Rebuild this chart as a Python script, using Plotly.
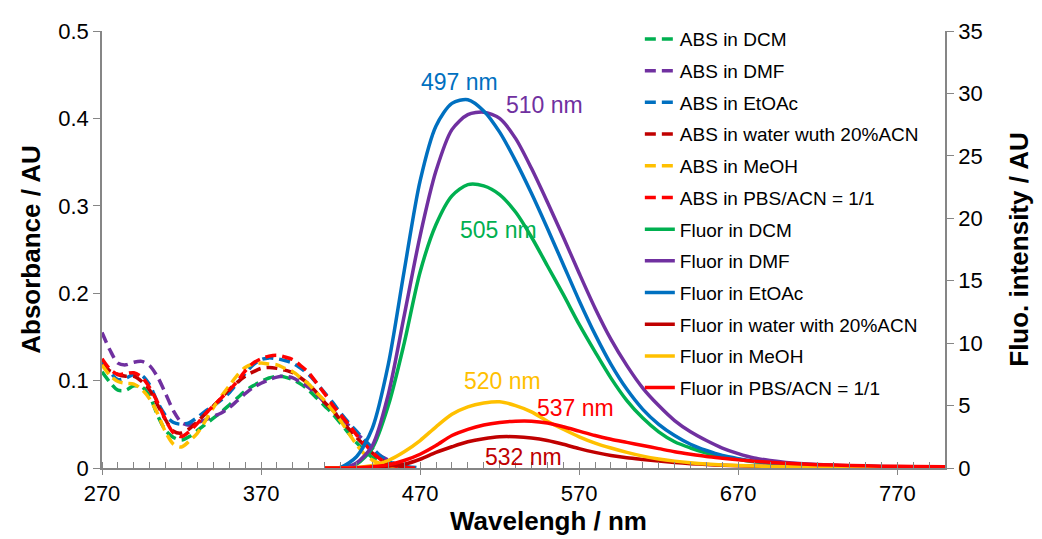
import plotly.graph_objects as go

# ---------------- data ----------------
abs_wl = [270, 275, 280, 285, 290, 295, 300, 305, 310, 315, 320, 325, 330, 335, 340,
          345, 350, 355, 360, 365, 370, 375, 380, 385, 390, 395, 400, 405, 410, 415,
          420, 425, 430, 435, 440, 445, 450, 455, 460, 465, 470]

abs_dcm = [0.110, 0.098, 0.089, 0.089, 0.094, 0.093, 0.082, 0.060, 0.043, 0.035, 0.032,
           0.036, 0.043, 0.050, 0.057, 0.064, 0.072, 0.080, 0.088, 0.094, 0.099, 0.103,
           0.105, 0.104, 0.101, 0.096, 0.089, 0.080, 0.071, 0.062, 0.051, 0.040, 0.029,
           0.020, 0.012, 0.007, 0.003, 0.001, 0.0, None, None]
abs_dmf = [0.155, 0.135, 0.120, 0.118, 0.121, 0.122, 0.117, 0.104, 0.085, 0.065, 0.052,
           0.049, 0.052, 0.055, 0.059, 0.063, 0.069, 0.077, 0.085, 0.092, 0.097, 0.101,
           0.104, 0.105, 0.103, 0.098, 0.092, 0.084, 0.075, 0.066, 0.057, 0.049, 0.040,
           0.031, 0.022, 0.014, 0.009, 0.004, 0.001, 0.0, None]
abs_etoac = [0.122, 0.110, 0.101, 0.103, 0.107, 0.106, 0.095, 0.075, 0.060, 0.052, 0.050,
             0.052, 0.058, 0.065, 0.071, 0.078, 0.086, 0.097, 0.108, 0.118, 0.124, 0.126,
             0.125, 0.123, 0.120, 0.114, 0.107, 0.097, 0.086, 0.075, 0.063, 0.052, 0.042,
             0.032, 0.023, 0.014, 0.008, 0.004, 0.002, 0.001, 0.0]
abs_water = [0.118, 0.111, 0.107, 0.105, 0.105, 0.099, 0.089, 0.072, 0.055, 0.042, 0.040,
             0.045, 0.053, 0.062, 0.071, 0.080, 0.090, 0.098, 0.105, 0.110, 0.114, 0.115,
             0.114, 0.112, 0.109, 0.103, 0.096, 0.086, 0.075, 0.066, 0.055, 0.045, 0.035,
             0.026, 0.017, 0.010, 0.005, 0.003, 0.001, 0.0, None]
abs_meoh = [0.118, 0.106, 0.099, 0.097, 0.096, 0.090, 0.079, 0.062, 0.041, 0.027, 0.024,
            0.031, 0.040, 0.054, 0.069, 0.082, 0.094, 0.106, 0.115, 0.119, 0.120, 0.119,
            0.118, 0.114, 0.110, 0.103, 0.096, 0.086, 0.077, 0.066, 0.054, 0.040, 0.027,
            0.016, 0.009, 0.005, 0.002, 0.0, None, None, None]
abs_pbs = [0.125, 0.113, 0.107, 0.108, 0.109, 0.104, 0.092, 0.075, 0.055, 0.040, 0.036,
           0.042, 0.051, 0.062, 0.071, 0.080, 0.089, 0.099, 0.111, 0.120, 0.125, 0.128,
           0.129, 0.127, 0.124, 0.117, 0.109, 0.097, 0.085, 0.072, 0.061, 0.050, 0.038,
           0.028, 0.018, 0.010, 0.005, 0.002, 0.001, 0.0, 0.0]

fl_wl = [410, 420, 430, 440, 450, 460, 470, 480, 490, 500, 510, 520, 530, 540, 550, 560,
         570, 580, 590, 600, 610, 620, 630, 640, 650, 660, 670, 680, 690, 700, 720, 740,
         760, 780, 800]

fl_dcm = [0.0, 0.0, 0.3, 1.6, 5.0, 10.0, 15.7, 19.5, 21.8, 22.7, 22.6, 21.9, 20.5, 18.5,
          16.2, 13.9, 11.5, 9.3, 7.2, 5.4, 4.0, 2.9, 2.1, 1.6, 1.2, 0.9, 0.7, 0.5, 0.4,
          0.3, 0.2, 0.14, 0.1, 0.07, 0.05]
fl_dmf = [0.0, 0.0, 0.4, 1.8, 5.9, 12.2, 18.6, 23.8, 27.1, 28.3, 28.5, 28.0, 26.4, 24.0,
          21.3, 18.5, 15.6, 12.8, 10.3, 8.2, 6.4, 5.0, 3.8, 2.9, 2.2, 1.6, 1.15, 0.8, 0.6,
          0.45, 0.28, 0.18, 0.12, 0.08, 0.05]
fl_etoac = [0.0, 0.05, 0.9, 3.2, 8.3, 15.8, 23.0, 27.4, 29.2, 29.5, 28.6, 26.9, 24.6,
            22.0, 19.2, 16.3, 13.4, 10.7, 8.3, 6.3, 4.7, 3.5, 2.6, 1.9, 1.4, 1.0, 0.75,
            0.55, 0.42, 0.32, 0.2, 0.14, 0.1, 0.07, 0.05]
fl_water = [0.0, 0.0, 0.01, 0.05, 0.15, 0.3, 0.7, 1.25, 1.7, 2.1, 2.35, 2.5, 2.5, 2.4,
            2.2, 1.9, 1.55, 1.25, 1.0, 0.82, 0.68, 0.55, 0.44, 0.35, 0.28, 0.22, 0.18,
            0.15, 0.12, 0.1, 0.07, 0.05, 0.04, 0.03, 0.02]
fl_meoh = [0.0, 0.0, 0.05, 0.2, 0.6, 1.3, 2.2, 3.3, 4.3, 4.9, 5.2, 5.3, 5.0, 4.5, 3.75,
           3.1, 2.5, 2.0, 1.6, 1.25, 0.95, 0.72, 0.55, 0.42, 0.32, 0.25, 0.2, 0.16, 0.13,
           0.1, 0.07, 0.05, 0.04, 0.03, 0.02]
fl_pbs = [0.0, 0.0, 0.02, 0.1, 0.25, 0.6, 1.1, 1.8, 2.6, 3.1, 3.45, 3.65, 3.75, 3.75, 3.6,
          3.3, 2.95, 2.6, 2.3, 2.05, 1.8, 1.55, 1.3, 1.1, 0.92, 0.78, 0.65, 0.55, 0.46,
          0.38, 0.27, 0.2, 0.15, 0.12, 0.1]

abs_names = ["ABS in DCM", "ABS in DMF", "ABS in EtOAc", "ABS in water wuth 20%ACN",
             "ABS in MeOH", "ABS in PBS/ACN = 1/1"]
fl_names = ["Fluor in DCM", "Fluor in DMF", "Fluor in EtOAc", "Fluor in water with 20%ACN",
            "Fluor in MeOH", "Fluor in PBS/ACN = 1/1"]
colors = ["#00B050", "#7030A0", "#0070C0", "#C00000", "#FFC000", "#FF0000"]

peak_labels = ["505 nm", "510 nm", "497 nm", "532 nm", "520 nm", "537 nm"]
peak_label_x = [519, 548, 494.5, 535, 521.5, 567.5]
peak_label_y = [19.1, 29.1, 30.9, 0.9, 6.95, 4.8]

x_ticks = [270, 370, 470, 570, 670, 770]
x_title = "Wavelengh / nm"

# ---------------- figure ----------------
FONT = "Liberation Sans, Arial, sans-serif"
fig = go.Figure()

abs_series = [abs_dcm, abs_dmf, abs_etoac, abs_water, abs_meoh, abs_pbs]
fl_series = [fl_dcm, fl_dmf, fl_etoac, fl_water, fl_meoh, fl_pbs]

for i, (name, ys) in enumerate(zip(abs_names, abs_series)):
    fig.add_trace(go.Scatter(
        x=abs_wl, y=ys, name=name, mode="lines", legendgroup="a%d" % i,
        line=dict(color=colors[i], width=3.5, dash="11px,6px", shape="spline",
                  smoothing=0.8),
        connectgaps=False, yaxis="y"))

for i, (name, ys) in enumerate(zip(fl_names, fl_series)):
    fig.add_trace(go.Scatter(
        x=fl_wl, y=ys, name=name, mode="lines", legendgroup="f%d" % i,
        line=dict(color=colors[i], width=3.5, shape="spline", smoothing=0.8),
        yaxis="y2"))

for i in range(6):
    fig.add_annotation(x=peak_label_x[i], y=peak_label_y[i], xref="x", yref="y2",
                       text=peak_labels[i], showarrow=False,
                       font=dict(family=FONT, size=23, color=colors[i]))

# x-axis title (placed slightly right of centre, as in the original)
fig.add_annotation(x=0.530, y=-0.122, xref="paper", yref="paper", xanchor="center",
                   yanchor="middle", showarrow=False, text="<b>%s</b>" % x_title,
                   font=dict(family=FONT, size=26, color="black"))

axis_col = "#868686"
# the page body has an 8px margin, so the figure is offset by 8px
fig.update_layout(
    width=1026, height=531,
    margin=dict(l=94, r=89, t=12, b=71),
    paper_bgcolor="white", plot_bgcolor="white",
    font=dict(family=FONT, size=22, color="black"),
    showlegend=True,
    legend=dict(x=0.638, y=1.025, xanchor="left", yanchor="top", maxheight=600,
                bgcolor="rgba(0,0,0,0)", font=dict(family=FONT, size=19, color="black"),
                tracegroupgap=4, traceorder="grouped"),
    xaxis=dict(range=[270, 800], tickvals=x_ticks, ticks="outside", ticklen=5,
               tickcolor=axis_col, showline=True, linecolor=axis_col, linewidth=1.5,
               showgrid=False, zeroline=False, automargin=False,
               minor=dict(dtick=10, tick0=270, ticks="inside", ticklen=6,
                          tickcolor=axis_col, showgrid=False),
               tickfont=dict(size=22)),
    yaxis=dict(range=[0, 0.5], dtick=0.1, tick0=0, ticks="outside", ticklen=7,
               tickcolor=axis_col, showline=True, linecolor=axis_col, linewidth=1.5,
               showgrid=False, zeroline=False, automargin=False,
               title=dict(text="<b>Absorbance / AU</b>", font=dict(size=26), standoff=10),
               tickfont=dict(size=22)),
    yaxis2=dict(range=[0, 35], dtick=5, tick0=0, overlaying="y", side="right",
                ticks="outside", ticklen=7, tickcolor=axis_col, showline=True,
                linecolor=axis_col, linewidth=1.5, showgrid=False, zeroline=False,
                automargin=False,
                title=dict(text="<b>Fluo. intensity / AU</b>", font=dict(size=26),
                           standoff=29),
                tickfont=dict(size=22)),
)

fig.write_html("out.html")
